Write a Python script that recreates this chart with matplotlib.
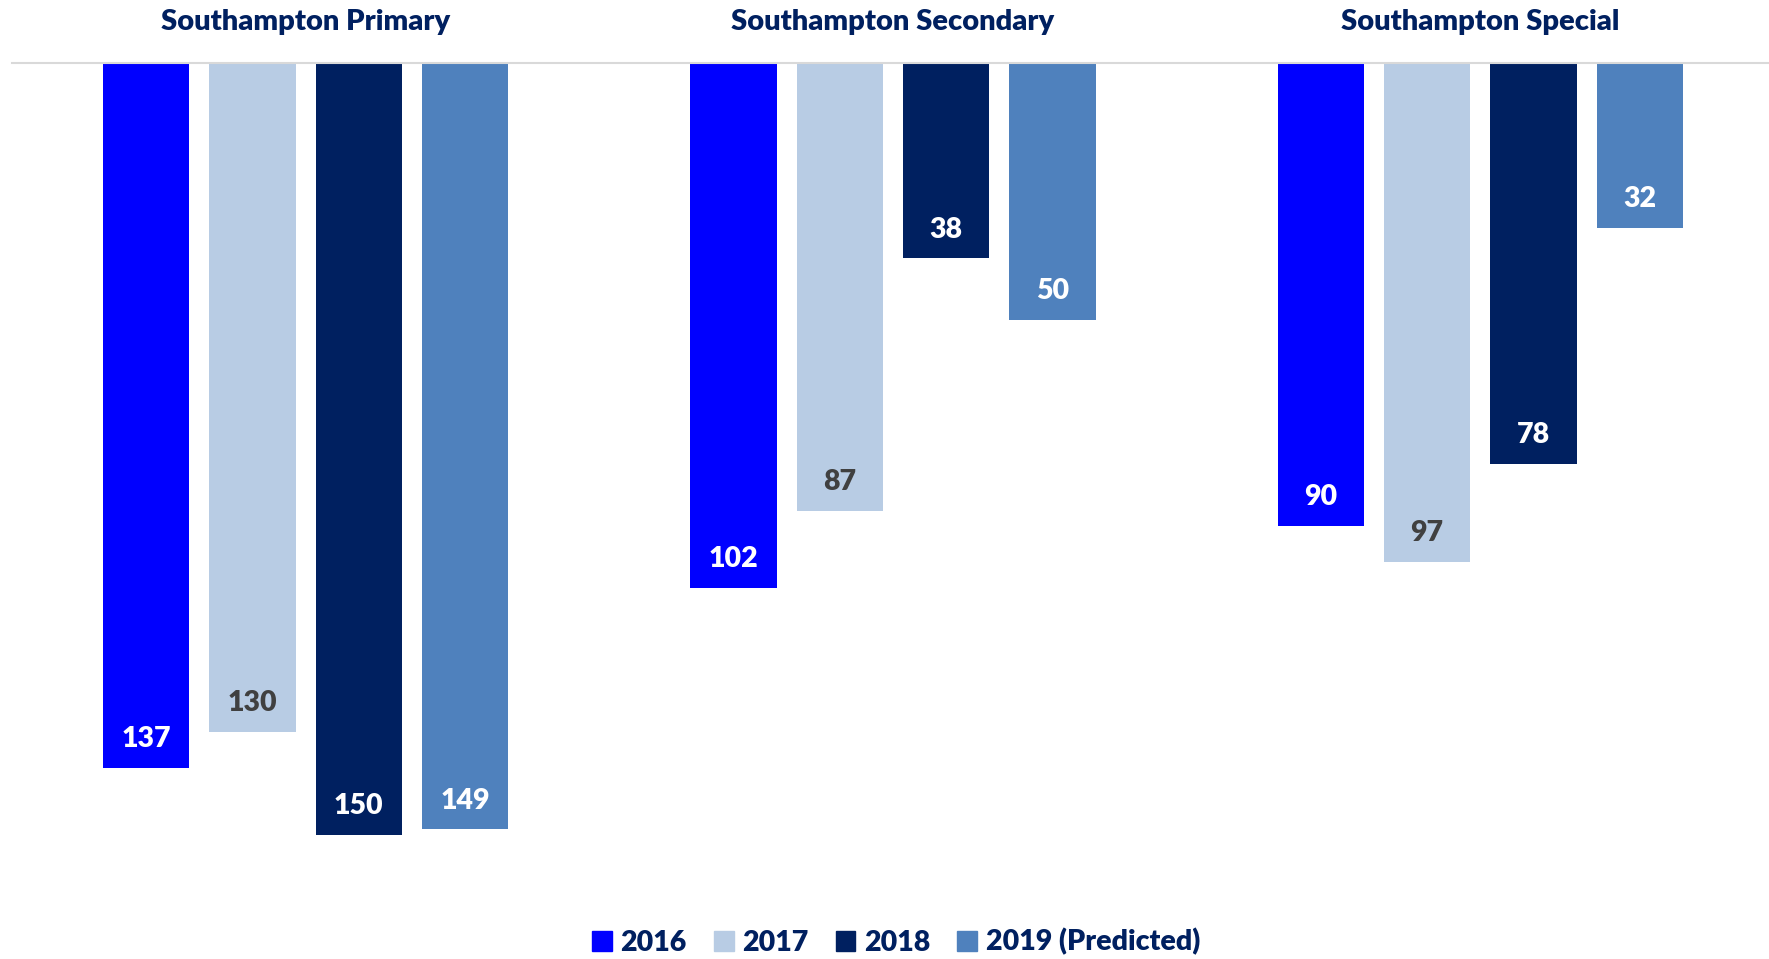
import numpy as np
import matplotlib
matplotlib.use("Agg")
import matplotlib.pyplot as plt
from matplotlib.patches import Patch

plt.rcParams['font.family'] = ['Lato', 'DejaVu Sans']

# Data
schools = ["Southampton Primary", "Southampton Secondary", "Southampton Special"]
series = ["2016", "2017", "2018", "2019 (Predicted)"]
v2016 = [137, 102, 90]
v2017 = [130, 87, 97]
v2018 = [150, 38, 78]
v2019 = [149, 50, 32]

colors = ["#0000FF", "#B8CCE4", "#002060", "#4F81BD"]
label_colors = ["white", "#404040", "white", "white"]
navy = "#002060"

fig = plt.figure(figsize=(17.69, 9.59), dpi=100)
ax = fig.add_axes([12 / 1769, 1 - 886 / 959, 1 - 7 / 1769, 823 / 959])

x = np.arange(len(schools))
width = 0.147
step = 0.181
for i, vals in enumerate([v2016, v2017, v2018, v2019]):
    pos = x + (i - 1.5) * step
    ax.bar(pos, vals, width, color=colors[i], label=series[i])
    for p, v in zip(pos, vals):
        ax.text(p, v - 5.6, str(v), ha='center', va='center', fontsize=20.5,
                fontweight='heavy', color=label_colors[i])

ax.set_xlim(-0.5, 2.5)
ax.set_ylim(160, 0)
ax.xaxis.tick_top()
ax.set_xticks(x)
ax.set_xticklabels(schools, fontsize=21, fontweight='heavy', color=navy)
ax.tick_params(axis='x', length=0, pad=20)
ax.set_yticks([])
for s in ['left', 'right', 'bottom']:
    ax.spines[s].set_visible(False)
ax.spines['top'].set_color('#D9D9D9')
ax.spines['top'].set_linewidth(1.5)

handles = [Patch(color=c) for c in colors]
leg = fig.legend(handles, series, loc='center', bbox_to_anchor=(896 / 1769, 1 - 942 / 959),
                 ncol=4, frameon=False, fontsize=20.5, handlelength=0.7, handleheight=0.7,
                 handletextpad=0.3, columnspacing=0.95)
for t in leg.get_texts():
    t.set_color(navy)
    t.set_fontweight('heavy')

fig.savefig("out.png", dpi=100)
